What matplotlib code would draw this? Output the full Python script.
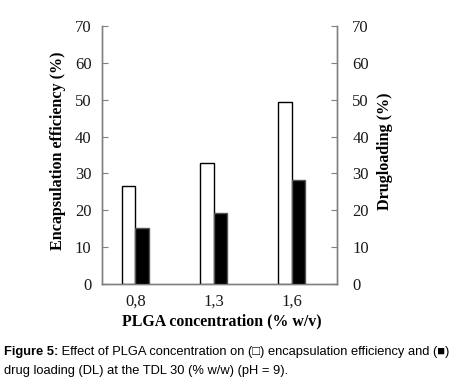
import matplotlib
matplotlib.use("Agg")
import matplotlib.pyplot as plt
import numpy as np

categories = ["0,8", "1,3", "1,6"]
encapsulation_efficiency = [26.5, 32.7, 49.3]
drug_loading = [15.1, 19.2, 28.3]
yticks = [0, 10, 20, 30, 40, 50, 60, 70]

plt.rcParams['font.family'] = ['Liberation Serif', 'DejaVu Serif']

fig = plt.figure(figsize=(4.53, 3.81), dpi=100)
ax = fig.add_axes([0.2252, 0.2546, 0.7439 - 0.2252, 0.9318 - 0.2546])
ax2 = ax.twinx()

x = np.arange(len(categories))
w = 0.173
ax.bar(x - w / 2, encapsulation_efficiency, width=w, color='white', edgecolor='black', linewidth=1.0, zorder=3)
ax2.bar(x + w / 2, drug_loading, width=w, color='black', edgecolor='#555555', linewidth=1.0, zorder=3)

for a in (ax, ax2):
    a.set_ylim(0, 70)
    a.set_yticks(yticks)
    a.set_xlim(-0.426, 2.579)
    a.spines['top'].set_visible(False)
    for s in ('left', 'right', 'bottom'):
        a.spines[s].set_color('#808080')
        a.spines[s].set_linewidth(1.0)

ax.set_xticks(x)
ax.set_xticklabels(categories)
ax.tick_params(axis='x', length=0, pad=7, labelsize=12, labelcolor='#1a1a1a')
ax.tick_params(axis='y', direction='in', length=4, color='#808080', pad=7.5, labelsize=12, labelcolor='#1a1a1a')
ax2.tick_params(axis='y', direction='in', length=4, color='#808080', pad=11, labelsize=12, labelcolor='#1a1a1a')

ax.set_ylabel("Encapsulation efficiency (%)", fontsize=11.6, fontweight='bold')
ax.yaxis.set_label_coords(-0.155, 0.515)
ax2.set_ylabel("Drugloading (%)", fontsize=11.6, fontweight='bold', rotation=90)
ax2.yaxis.set_label_coords(1.169, 0.515)
ax.set_xlabel("PLGA concentration (% w/v)", fontsize=11.4, fontweight='bold')
ax.xaxis.set_label_coords(0.509, -0.113)

cap_fam = ['Liberation Sans', 'DejaVu Sans']
cap_fs = 9.3
t1 = fig.text(4 / 453, 1 - 352 / 381, "Figure 5:", fontsize=cap_fs, fontweight='bold',
              family=cap_fam, va='center', ha='left')
ax.annotate(" Effect of PLGA concentration on (\u25a1) encapsulation efficiency and (\u25a0)",
            xy=(1, 0), xycoords=t1, va='bottom', ha='left', fontsize=cap_fs,
            family=cap_fam, annotation_clip=False)
fig.text(4 / 453, 1 - 371 / 381, "drug loading (DL) at the TDL 30 (% w/w) (pH = 9).",
         fontsize=cap_fs, family=cap_fam, va='center', ha='left')

fig.savefig("out.png", dpi=100)
